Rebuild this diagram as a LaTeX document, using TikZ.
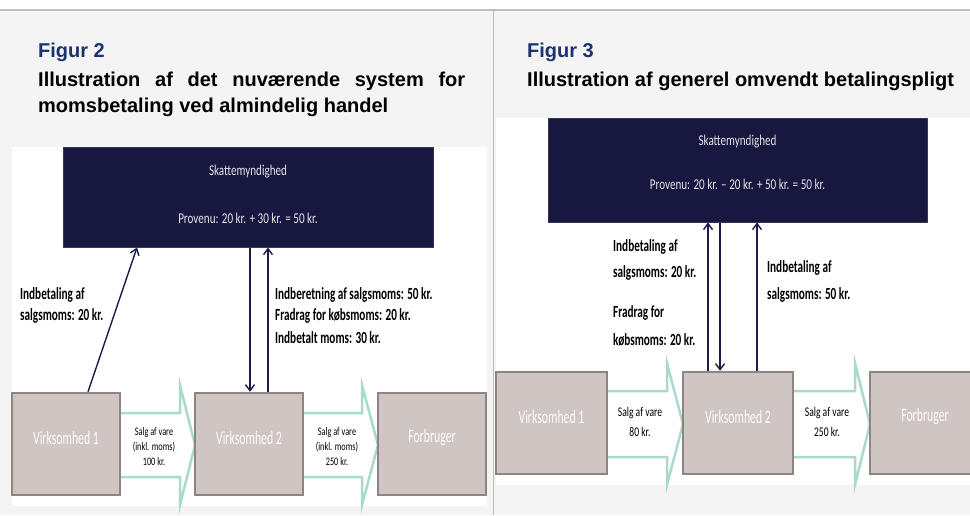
\documentclass[tikz,border=0pt]{standalone}
\usepackage{fontspec}
\setmainfont{Liberation Sans}
\newfontfamily\calib[FakeStretch=0.72]{Carlito}
\newfontfamily\calibT[FakeStretch=0.74]{Carlito}
\newfontfamily\calibL[FakeStretch=0.66]{Carlito}
\newfontfamily\calibB[FakeStretch=0.62]{Carlito}
\usetikzlibrary{arrows.meta}
\definecolor{bgray}{HTML}{F4F4F4}
\definecolor{rulec}{HTML}{BDBDBD}
\definecolor{navy}{HTML}{18173F}
\definecolor{figblue}{HTML}{1B3370}
\definecolor{boxfill}{HTML}{CFC5C3}
\definecolor{boxedge}{HTML}{8F8482}
\definecolor{mint}{HTML}{A8DCC8}
\definecolor{linenavy}{HTML}{1D1B4C}
\begin{document}
\begin{tikzpicture}[x=1pt,y=-1pt,
  taxbox/.style={fill=navy, draw=navy!70!gray, line width=1pt, inner sep=0pt},
  taxtxt/.style={text=white!88!navy, inner sep=0pt, font=\calibT\fontsize{15}{17}\selectfont},
  firm/.style={fill=boxfill, draw=boxedge, line width=2.5pt, inner sep=0pt,
    minimum height=102pt, text=white!95!boxfill, font=\calibB\fontsize{19}{21}\selectfont},
  lbl/.style={anchor=west, inner sep=0pt, text=black, font=\calibL\bfseries\fontsize{17}{19}\selectfont},
  flowlbl/.style={inner sep=0pt, align=center, text=black},
  flow/.style={draw=mint, line width=2.5pt, fill=white, line join=miter},
  conn/.style={draw=linenavy, line width=1.4pt, -{Straight Barb[length=6pt,width=9pt,line width=1.4pt]}},
  figlbl/.style={anchor=west, inner sep=0pt, text=figblue, font=\bfseries\fontsize{20}{24}\selectfont},
  titlelbl/.style={anchor=west, inner sep=0pt, text=black, font=\bfseries\fontsize{20}{24}\selectfont}
]
\useasboundingbox (0,0) rectangle (970,515);
\clip (0,0) rectangle (970,515);
% background
\fill[white] (0,0) rectangle (970,10);
\fill[bgray] (0,10) rectangle (970,515);
\draw[rulec, line width=1.2pt] (0,10) -- (970,10);
\draw[rulec, line width=1.2pt] (493.5,10) -- (493.5,515);
\fill[white] (12,147) rectangle (487,506);
\fill[white] (496,118) rectangle (970,485);

% ===== Left panel headings
\node[figlbl] (fig2) at (38,52) {Figur 2};
\node[titlelbl] (t2a) at (38,81) {\makebox[427pt][s]{Illustration af det nuværende system for}};
\node[titlelbl] (t2b) at (38,107) {momsbetaling ved almindelig handel};

% flow arrows (left)
\draw[flow] (115,413) -- (180,413) -- (180,385) -- (195,445) -- (180,505) -- (180,477) -- (115,477) -- cycle;
\draw[flow] (298,413) -- (362,413) -- (362,385) -- (378,445) -- (362,505) -- (362,477) -- (298,477) -- cycle;

% boxes (left)
\node[taxbox, minimum width=370pt, minimum height=100pt] (tax1) at (248,197) {};
\node[taxtxt] (tax1a) at (248,172) {Skattemyndighed};
\node[taxtxt] (tax1b) at (248,218) {Provenu: 20 kr. + 30 kr. = 50 kr.};
\node[firm, minimum width=108pt] (v1a) at (66,444) {};
\node[firm, minimum width=108pt] (v2a) at (249,444) {};
\node[firm, minimum width=108pt] (fa) at (432,444) {};
\node[firm, draw=none, fill=none, minimum height=0pt] (v1at) at (66,438) {Virksomhed 1};
\node[firm, draw=none, fill=none, minimum height=0pt] (v2at) at (249,438) {Virksomhed 2};
\node[firm, draw=none, fill=none, minimum height=0pt] (fat) at (432,438) {Forbruger};

\node[flowlbl, font=\calib\fontsize{11.5}{15}\selectfont] (s1a) at (154,447) {Salg af vare\\(inkl. moms)\\100 kr.};
\node[flowlbl, font=\calib\fontsize{11.5}{15}\selectfont] (s2a) at (337,447) {Salg af vare\\(inkl. moms)\\250 kr.};

% connectors (left)
\draw[conn] (88,0 |- v1a.north) -- (137,0 |- tax1.south);
\draw[conn] (250,0 |- tax1.south) -- (250,0 |- v2a.north);
\draw[conn] (268,0 |- v2a.north) -- (268,0 |- tax1.south);

\node[lbl] (l1) at (20,295) {Indbetaling af};
\node[lbl] (l2) at (20,316) {salgsmoms: 20 kr.};
\node[lbl] (l3) at (275,295) {Indberetning af salgsmoms: 50 kr.};
\node[lbl] (l4) at (275,316) {Fradrag for købsmoms: 20 kr.};
\node[lbl] (l5) at (275,338) {Indbetalt moms: 30 kr.};

% ===== Right panel headings
\node[figlbl] (fig3) at (527,52) {Figur 3};
\node[titlelbl] (t3a) at (527,81) {Illustration af generel omvendt betalingspligt};

% flow arrows (right)
\draw[flow] (602,391) -- (667,391) -- (667,363) -- (683,424) -- (667,485) -- (667,457) -- (602,457) -- cycle;
\draw[flow] (788,391) -- (855,391) -- (855,363) -- (870,424) -- (855,485) -- (855,457) -- (788,457) -- cycle;

\node[taxbox, minimum width=379pt, minimum height=104pt] (tax2) at (737.5,170) {};
\node[taxtxt] (tax2a) at (737.5,142) {Skattemyndighed};
\node[taxtxt] (tax2b) at (737.5,184) {Provenu: 20 kr. – 20 kr. + 50 kr. = 50 kr.};
\node[firm, minimum width=111pt] (v1b) at (551.5,423) {};
\node[firm, minimum width=110pt] (v2b) at (738,423) {};
\node[firm, minimum width=120pt] (fb) at (930,423) {};
\node[firm, draw=none, fill=none, minimum height=0pt] (v1bt) at (551.5,417) {Virksomhed 1};
\node[firm, draw=none, fill=none, minimum height=0pt] (v2bt) at (738,417) {Virksomhed 2};
\node[firm, draw=none, fill=none, minimum height=0pt] (fbt) at (925,417) {Forbruger};

\node[flowlbl, font=\calib\fontsize{13.3}{20}\selectfont] (s1b) at (640,422) {Salg af vare\\80 kr.};
\node[flowlbl, font=\calib\fontsize{13.3}{20}\selectfont] (s2b) at (827,422) {Salg af vare\\250 kr.};

\draw[conn] (708,0 |- v2b.north) -- (708,0 |- tax2.south);
\draw[conn] (720,0 |- tax2.south) -- (720,0 |- v2b.north);
\draw[conn] (757,0 |- v2b.north) -- (757,0 |- tax2.south);

\node[lbl] (r1) at (613,247) {Indbetaling af};
\node[lbl] (r2) at (613,273) {salgsmoms: 20 kr.};
\node[lbl] (r3) at (613,313) {Fradrag for};
\node[lbl] (r4) at (613,340) {købsmoms: 20 kr.};
\node[lbl] (r5) at (767,268) {Indbetaling af};
\node[lbl] (r6) at (767,295) {salgsmoms: 50 kr.};
\end{tikzpicture}
\end{document}
